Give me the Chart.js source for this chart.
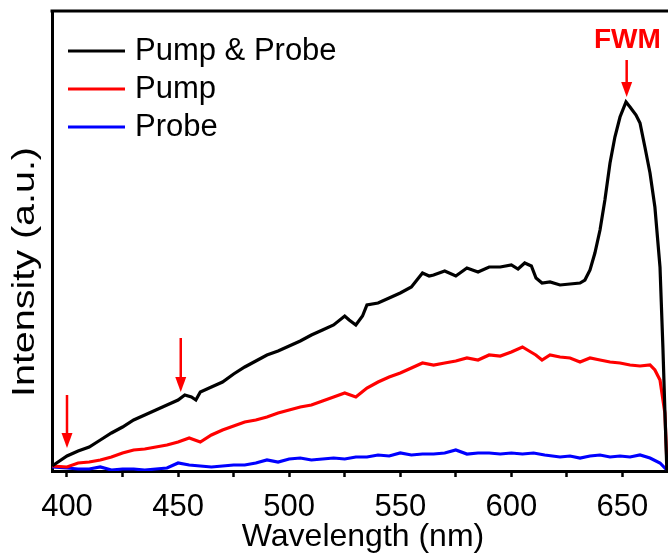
<!DOCTYPE html>
<html>
<head>
<meta charset="utf-8">
<script src="https://cdn.jsdelivr.net/npm/chart.js@4.4.1/dist/chart.umd.min.js"></script>
<style>
  html, body { margin: 0; padding: 0; overflow: hidden; background: #fff; }
  canvas { display: block; }
</style>
</head>
<body>
<canvas id="myChart" width="680" height="559"></canvas>
<script>
// Wavelength (nm) and intensity (a.u.)
const pumpProbeNm = [393.3, 400, 405, 410, 415, 420, 425, 430, 435, 440, 445, 450, 453, 456, 458, 460, 465, 470, 475, 480,
  485, 490, 495, 500, 505, 510, 515, 520, 525, 527, 530, 533, 535, 540, 545, 550, 555, 560, 563, 565,
  570, 575, 580, 585, 590, 595, 600, 603, 606, 609, 611.1, 613.8, 617.4, 621.9, 626.4, 630.9, 633.1, 635.4, 637.6, 639.9,
  642.1, 644.4, 646.6, 648.9, 651.6, 653.4, 656.1, 657.9, 660.1, 662.4, 664.6, 666.9, 668.2, 669.1, 670.0];
const pumpProbeInt = [5, 15, 20, 24, 31, 38, 44, 51, 56, 61, 66, 71, 76, 74, 71, 79, 84, 89, 97, 104,
  110, 116, 120, 125, 130, 136, 141, 146, 155, 151, 146, 155, 166, 168, 173, 178, 184, 198, 195, 196,
  200, 195, 203, 199, 204, 204, 206, 202, 208, 205, 193, 188, 189, 186, 187, 188, 191, 201, 218, 241,
  271, 308, 334, 354, 369, 364, 356, 348, 324, 298, 264, 204, 124, 60, 0];

const pumpNm = [393.3, 400, 405, 410, 415, 420, 425, 430, 435, 440, 445, 450, 455, 460, 465, 470, 475, 480, 485, 490,
  495, 500, 505, 510, 515, 520, 525, 530, 535, 540, 545, 550, 555, 560, 565, 570, 575, 580, 585, 590,
  595, 600, 605, 608, 611, 613.8, 617.4, 621.9, 626.4, 630.9, 635.4, 639.9, 644.4, 648.9, 653.4, 657.9, 662.4, 664.6, 666.9, 669.1,
  670.0, 670.3];
const pumpInt = [5, 4, 8, 9, 11, 14, 18, 21, 22, 24, 26, 29, 33, 29, 36, 41, 45, 49, 51, 54,
  58, 61, 64, 66, 70, 74, 78, 74, 83, 89, 94, 98, 103, 108, 106, 108, 110, 113, 111, 116,
  115, 119, 124, 120, 116, 111, 116, 114, 113, 109, 113, 111, 109, 108, 106, 105, 106, 101, 91, 58,
  8, 0];

const probeNm = [393.3, 400, 405, 410, 415, 420, 425, 430, 435, 440, 445, 450, 455, 460, 465, 470, 475, 480, 485, 490,
  495, 500, 505, 510, 515, 520, 525, 530, 535, 540, 545, 550, 555, 560, 565, 570, 575, 580, 585, 590,
  595, 600, 605, 610, 615, 621.9, 626.4, 630.9, 635.4, 639.9, 644.4, 648.9, 653.4, 657.9, 662.4, 666.9, 670.0];
const probeInt = [4, 3, 2, 2, 4, 1, 2, 2, 1, 2, 3, 8, 6, 5, 4, 5, 6, 6, 8, 11,
  9, 12, 13, 11, 12, 13, 12, 14, 14, 16, 15, 18, 16, 17, 17, 18, 21, 17, 18, 18,
  17, 18, 17, 18, 16, 14, 15, 13, 15, 16, 14, 15, 14, 16, 13, 8, 1];

const seriesNames = ['Pump & Probe', 'Pump', 'Probe'];
const seriesColors = ['#000000', '#ff0000', '#0000ff'];

// red arrows (nm, tail, tip) and the FWM label
const arrowNm = [400, 451.2, 651.9];
const arrowTail = [76, 133, 411];
const arrowTip = [23, 79, 374];
const fwmLabel = { text: 'FWM', x: 652.2, y: 431 };

function toPoints(xs, ys) {
  return xs.map((x, i) => ({ x: x, y: ys[i] }));
}

const FONT = 'Liberation Sans, Arial, sans-serif';

const extras = {
  id: 'extras',
  afterDatasetsDraw(chart) {
    const ctx = chart.ctx;
    const a = chart.chartArea;
    const xs = chart.scales.x, ys = chart.scales.y;
    ctx.save();

    // top and right frame
    ctx.strokeStyle = '#000';
    ctx.lineWidth = 3;
    ctx.beginPath();
    ctx.moveTo(a.left - 1.5, a.top);
    ctx.lineTo(a.right, a.top);
    ctx.lineTo(a.right, a.bottom + 1.5);
    ctx.stroke();

    // arrows
    ctx.strokeStyle = '#ff0000';
    ctx.fillStyle = '#ff0000';
    ctx.lineWidth = 2.5;
    arrowNm.forEach((nm, i) => {
      const x = xs.getPixelForValue(nm);
      const y0 = ys.getPixelForValue(arrowTail[i]);
      const y1 = ys.getPixelForValue(arrowTip[i]);
      ctx.beginPath();
      ctx.moveTo(x, y0);
      ctx.lineTo(x, y1 - 12);
      ctx.stroke();
      ctx.beginPath();
      ctx.moveTo(x - 5.5, y1 - 15);
      ctx.lineTo(x + 5.5, y1 - 15);
      ctx.lineTo(x, y1);
      ctx.closePath();
      ctx.fill();
    });
    ctx.font = 'bold 28px ' + FONT;
    ctx.textAlign = 'center';
    ctx.textBaseline = 'middle';
    ctx.fillText(fwmLabel.text, xs.getPixelForValue(fwmLabel.x), ys.getPixelForValue(fwmLabel.y));

    // legend
    ctx.font = '31px ' + FONT;
    ctx.textAlign = 'left';
    ctx.textBaseline = 'alphabetic';
    chart.data.datasets.forEach((ds, i) => {
      const ly = 51 + i * 38;
      ctx.strokeStyle = ds.borderColor;
      ctx.lineWidth = 3;
      ctx.beginPath();
      ctx.moveTo(68, ly);
      ctx.lineTo(125, ly);
      ctx.stroke();
      ctx.fillStyle = '#000';
      ctx.fillText(ds.label, 135, ly + 9);
    });

    // y axis title (stretched a little like the figure)
    ctx.translate(25, (a.top + a.bottom) / 2 + 31);
    ctx.rotate(-Math.PI / 2);
    ctx.font = '31px ' + FONT;
    ctx.textAlign = 'center';
    ctx.textBaseline = 'middle';
    const t = 'Intensity (a.u.)';
    const w = ctx.measureText(t).width;
    ctx.scale(250 / w, 1);
    ctx.fillText(t, 0, 0);
    ctx.restore();
  }
};

var ctx = document.getElementById('myChart').getContext('2d');
new Chart(ctx, {
  type: 'line',
  data: {
    datasets: [
      { label: seriesNames[0], data: toPoints(pumpProbeNm, pumpProbeInt), borderColor: seriesColors[0] },
      { label: seriesNames[1], data: toPoints(pumpNm, pumpInt), borderColor: seriesColors[1] },
      { label: seriesNames[2], data: toPoints(probeNm, probeInt), borderColor: seriesColors[2] }
    ]
  },
  options: {
    responsive: false,
    animation: false,
    devicePixelRatio: 1,
    layout: { padding: { left: 52, top: 11, right: 6, bottom: 0 } },
    elements: {
      point: { radius: 0 },
      line: { borderWidth: 3.2, tension: 0, fill: false }
    },
    plugins: {
      legend: { display: false },
      tooltip: { enabled: false }
    },
    scales: {
      x: {
        type: 'linear',
        min: 393.25,
        max: 673.2,
        ticks: {
          stepSize: 25,
          includeBounds: false,
          autoSkip: false,
          maxRotation: 0,
          padding: 12,
          color: '#000',
          font: { family: FONT, size: 31 },
          callback: v => (Math.round(v) % 50 === 0 ? Math.round(v) : '')
        },
        grid: { drawOnChartArea: false, drawTicks: true, tickLength: 6, tickWidth: 2.5, tickColor: '#000' },
        border: { display: true, color: '#000', width: 3 },
        title: {
          display: true,
          text: 'Wavelength (nm)',
          color: '#000',
          font: { family: FONT, size: 32 },
          padding: { top: 0, bottom: 3 }
        },
        afterFit: s => { s.height = 88; }
      },
      y: {
        min: 0,
        max: 460,
        ticks: { display: false },
        grid: { display: false },
        border: { display: true, color: '#000', width: 3 },
        afterFit: s => { s.width = 0; }
      }
    }
  },
  plugins: [extras]
});
</script>
</body>
</html>
